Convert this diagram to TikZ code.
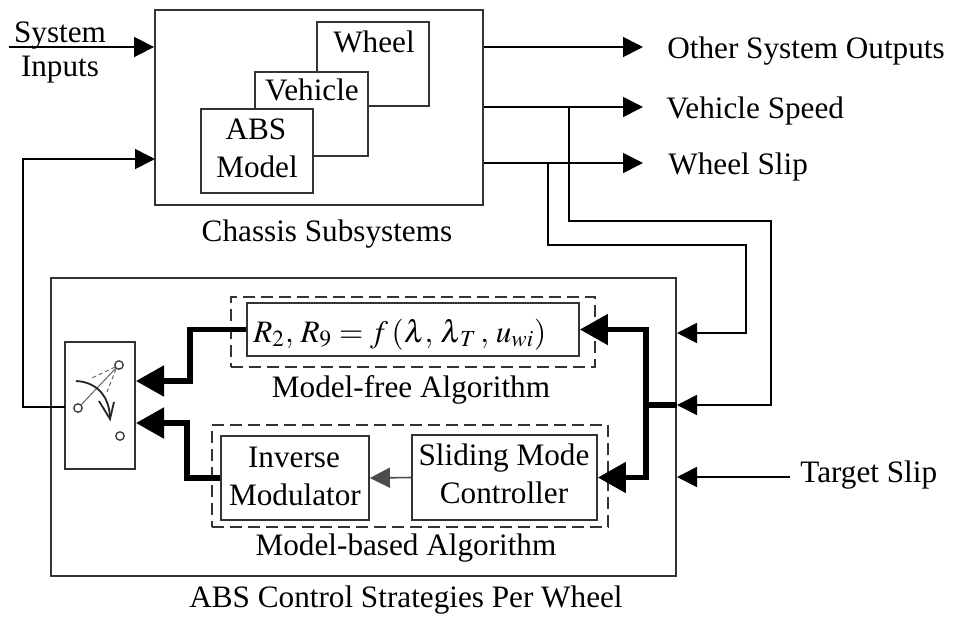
\documentclass[tikz,border=0pt]{standalone}
\usepackage{mathptmx}
\usepackage{fontspec}
\setmainfont{Liberation Serif}
\usetikzlibrary{arrows.meta,fit}

\begin{document}
\begin{tikzpicture}[x=0.5pt,y=-0.5pt,
  every node/.style={font=\fontsize{15.6}{19}\selectfont, inner sep=0pt},
  box/.style={draw=black!80, line width=0.9pt, fill=white, inner sep=0pt},
  dbox/.style={draw=black!80, line width=0.8pt, dash pattern=on 6pt off 3pt, inner sep=0pt},
  txt/.style={anchor=base},
  ltxt/.style={anchor=base west},
  wire/.style={line width=0.8pt},
  arr/.style={-{Triangle[length=10pt,width=10pt]}},
  bold/.style={line width=2.6pt, line join=miter},
  barr/.style={-{Triangle[length=14pt,width=15pt]}},
]
\useasboundingbox (0,0) rectangle (954,617);

% ---------- chassis subsystems ----------
\node[box, fit={(155,10) (483,205)}] (chassis) {};
\node[box, fit={(317,22) (429,106)}] (wheel) {};
\node[box, fit={(255,72) (368,156)}] (vehicle) {};
\node[box, fit={(201,109) (313,193)}] (absm) {};
\node[txt] (wheeltxt) at (374,52) {Wheel};
\node[txt] (vehtxt) at (312,100) {Vehicle};
\node[txt] (abstxt) at (256,139) {ABS};
\node[txt] (modtxt) at (257,177) {Model};
\node[txt] (chassislbl) at (327,241) {Chassis Subsystems};

% system inputs
\coordinate (sysin) at (9,47);
\draw[wire,arr] (sysin) -- (chassis.west |- sysin);
\node[txt] (systxt) at (60,42) {System};
\node[txt] (inptxt) at (60,76) {Inputs};

% outputs
\coordinate (o1) at (643,47);
\coordinate (o2) at (643,107);
\coordinate (o3) at (643,163);
\draw[wire,arr] (chassis.east |- o1) -- (o1);
\draw[wire,arr] (chassis.east |- o2) -- (o2);
\draw[wire,arr] (chassis.east |- o3) -- (o3);
\node[ltxt] (o1txt) at (667,58) {Other System Outputs};
\node[ltxt] (o2txt) at (666,118) {Vehicle Speed};
\node[ltxt] (o3txt) at (668,174) {Wheel Slip};

% ---------- ABS control strategies ----------
\node[box, fit={(51,278) (676,576)}] (ctrl) {};
\node[txt] (ctrllbl) at (406,607) {ABS Control Strategies Per Wheel};

% model-free algorithm
\node[dbox, fit={(231,297) (595,367)}] (mfree) {};
\node[box, fit={(247,303) (579,356)}] (formula) {};
\node[ltxt] (ftxt) at (253,342) {$R_2,\,R_9=f\,(\lambda,\,\lambda_{\,T}\,,\,u_{wi})$};
\node[txt] (mfreelbl) at (411,397) {Model-free Algorithm};

% model-based algorithm
\node[dbox, fit={(212,425) (608,527)}] (mbased) {};
\node[box, fit={(221,436) (369,520)}] (im) {};
\node[box, fit={(412,435) (597,520)}] (smc) {};
\node[txt] (imtxt1) at (294,467) {Inverse};
\node[txt] (imtxt2) at (295,505) {Modulator};
\node[txt] (smctxt1) at (504,465) {Sliding Mode};
\node[txt] (smctxt2) at (504,503) {Controller};
\node[txt] (mbasedlbl) at (406,555) {Model-based Algorithm};
\draw[wire, draw=black!70, arr] (smc.west) -- (im.east);

% selector switch
\node[box, fit={(65,342) (135,469)}] (switch) {};
\draw[black!75, line width=0.7pt] (119,365) circle (2.1pt) (78,408) circle (2.1pt) (120,436) circle (2.1pt);
\draw[black!60, line width=0.5pt] (81,405) -- (116,368);
\draw[black!60, line width=0.5pt, dash pattern=on 2pt off 1.5pt]
  (115,367) -- (92,378) (116,369) -- (107,392);
\draw[black!85, line width=0.9pt] (76,381) .. controls (98,382) and (110,398) .. (110,419);
\draw[black!85, line width=0.9pt] (99,401) -- (110,419) -- (114,402);

% measured signals into the controller
\coordinate (vsp) at (569,107);
\coordinate (wsl) at (548,163);
\coordinate (vsin) at (677,405);
\coordinate (wsin) at (677,333);
\draw[wire,arr] (vsp) -- (569,221) -- (771,221) |- (vsin);
\draw[wire,arr] (wsl) -- (548,245) -- (746,245) |- (wsin);

% target slip
\node[ltxt] (target) at (800,482) {Target Slip};
\coordinate (tsin) at (677,477);
\draw[wire,arr] ([xshift=-5pt]target.west |- tsin) -- (tsin);

% internal distribution to both algorithms
\coordinate (tj) at (646,405);
\draw[bold] (vsin) -- (tj);
\draw[bold,barr] (tj) |- (formula.east);
\draw[bold,barr] (tj) |- (smc.east);

% algorithm outputs into the switch
\coordinate (sw1) at (136,381);
\coordinate (sw2) at (136,423);
\draw[bold,barr] (formula.west) -| (190,381) -- (sw1);
\draw[bold,barr] (im.west) -| (187,423) -- (sw2);

% feedback to the chassis
\coordinate (swout) at (65,407);
\coordinate (fbin) at (155,159);
\draw[wire,arr] (swout) -- (23,407) |- (fbin);
\end{tikzpicture}
\end{document}
